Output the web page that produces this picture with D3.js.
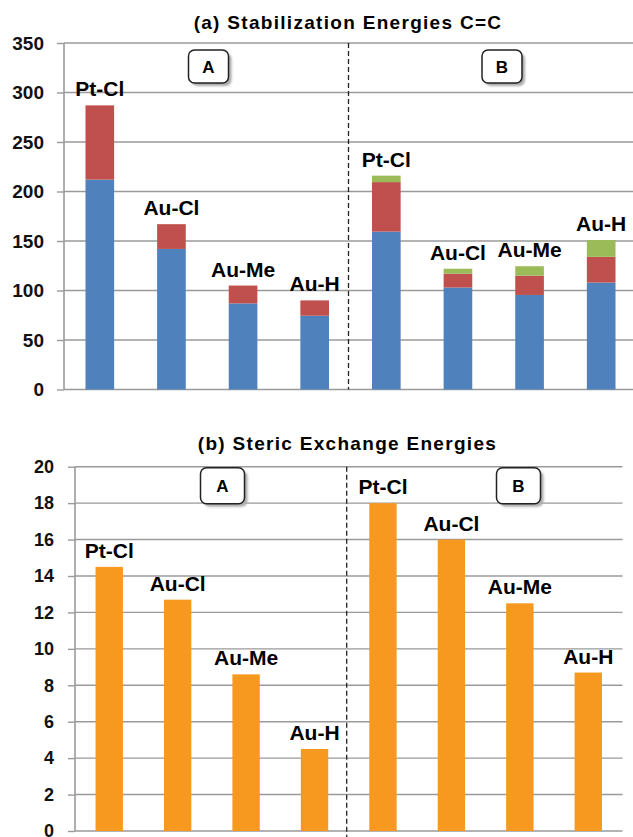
<!DOCTYPE html>
<html>
<head>
<meta charset="utf-8">
<script src="https://cdn.jsdelivr.net/npm/d3@7"></script>
<style>
  body { margin: 0; background: #fff; }
  text { font-family: "Liberation Sans", Arial, sans-serif; font-weight: bold; }
</style>
</head>
<body>
<script>
// data
var categories = ["Pt-Cl", "Au-Cl", "Au-Me", "Au-H", "Pt-Cl", "Au-Cl", "Au-Me", "Au-H"];
var groupNames = ["A", "B"];
var blueVals = [212, 142, 87, 74.5, 159.5, 103, 95.5, 108];
var redVals = [75, 25, 18, 15.5, 50, 14, 19.5, 26];
var greenVals = [0, 0, 0, 0, 6.5, 5, 9.5, 17];
var stericVals = [14.5, 12.7, 8.6, 4.5, 18, 16, 12.5, 8.7];
var topTicks = [0, 50, 100, 150, 200, 250, 300, 350];
var bottomTicks = [0, 2, 4, 6, 8, 10, 12, 14, 16, 18, 20];

var W = 633, H = 837;
var gridColor = "#9a9a9a";

var svg = d3.select("body").append("svg")
    .attr("width", W)
    .attr("height", H);

// shadow for the A / B boxes
var defs = svg.append("defs");
defs.append("filter").attr("id", "blur")
    .attr("x", "-20%").attr("y", "-20%").attr("width", "140%").attr("height", "140%")
    .append("feGaussianBlur").attr("stdDeviation", 1.2);

var idx = d3.range(categories.length);

function drawPanel(opt) {
    var g = svg.append("g");
    var x = d3.scaleBand().domain(idx).range([opt.left, opt.right]).paddingInner(0.6).paddingOuter(0.3);
    var y = d3.scaleLinear().domain([0, opt.max]).range([opt.bottom, opt.top]);

    // title
    g.append("text")
        .attr("x", opt.titleX).attr("y", opt.titleY)
        .attr("text-anchor", "middle")
        .attr("font-size", "19px")
        .attr("letter-spacing", "1.3px")
        .text(opt.title);

    // gridlines
    g.selectAll(".grid").data(opt.ticks.filter(d => d > 0)).enter().append("line")
        .attr("x1", opt.left).attr("x2", opt.gridRight)
        .attr("y1", d => y(d)).attr("y2", d => y(d))
        .attr("stroke", gridColor).attr("stroke-width", 1.4);

    // y axis
    var ax = g.append("g")
        .attr("transform", "translate(" + opt.left + ",0)")
        .call(d3.axisLeft(y).tickValues(opt.ticks).tickSize(7).tickPadding(opt.pad).tickFormat(d3.format("d")));
    ax.select(".domain").remove();
    ax.selectAll(".tick line").attr("stroke", gridColor).attr("stroke-width", 1.4);
    ax.selectAll(".tick text")
        .attr("font-size", opt.tickFont)
        .attr("font-family", "'Liberation Sans', Arial, sans-serif")
        .attr("font-weight", "bold")
        .attr("fill", "#111");
    g.append("line")
        .attr("x1", opt.left).attr("x2", opt.left)
        .attr("y1", opt.top).attr("y2", opt.bottom)
        .attr("stroke", gridColor).attr("stroke-width", 1.6);
    g.append("line")
        .attr("x1", opt.left).attr("x2", opt.gridRight)
        .attr("y1", opt.bottom).attr("y2", opt.bottom)
        .attr("stroke", gridColor).attr("stroke-width", 1.6);

    // bars
    opt.drawBars(g, x, y);

    // category labels above the bars
    g.selectAll(".lab").data(idx).enter().append("text")
        .attr("x", i => x(i) + x.bandwidth() / 2)
        .attr("y", i => y(opt.totals[i]) - 9)
        .attr("text-anchor", "middle")
        .attr("font-size", "21px")
        .attr("fill", "#000")
        .text(i => categories[i]);

    // dashed separator between A and B
    g.append("line")
        .attr("x1", opt.sepX).attr("x2", opt.sepX)
        .attr("y1", opt.top).attr("y2", opt.sepEnd)
        .attr("stroke", "#222").attr("stroke-width", 1.3)
        .attr("stroke-dasharray", "5,3");

    // A / B boxes
    groupNames.forEach(function (name, k) {
        var bx = opt.boxX[k], by = opt.top + opt.boxDy;
        g.append("rect")
            .attr("x", bx + 3).attr("y", by + 3)
            .attr("width", opt.boxW).attr("height", opt.boxH)
            .attr("rx", 6).attr("fill", "#aaa").attr("filter", "url(#blur)");
        g.append("rect")
            .attr("x", bx).attr("y", by)
            .attr("width", opt.boxW).attr("height", opt.boxH)
            .attr("rx", 6).attr("fill", "#fff").attr("stroke", "#222").attr("stroke-width", 1.5);
        g.append("text")
            .attr("x", bx + opt.boxW / 2).attr("y", by + opt.boxH / 2 + 6)
            .attr("text-anchor", "middle")
            .attr("font-size", "17px")
            .text(name);
    });
}

// (a) stacked bars
var stackKeys = ["blue", "red", "green"];
var stackColors = {blue: "#4F81BD", red: "#C0504D", green: "#9BBB59"};
var stackRows = idx.map(i => ({blue: blueVals[i], red: redVals[i], green: greenVals[i]}));
var stacked = d3.stack().keys(stackKeys)(stackRows);
var topTotals = idx.map(i => blueVals[i] + redVals[i] + greenVals[i]);

drawPanel({
    title: "(a) Stabilization Energies C=C",
    titleX: 348, titleY: 29,
    left: 64, right: 637, gridRight: 633,
    top: 43, bottom: 389.5, max: 350,
    ticks: topTicks, tickFont: "19px", pad: 13,
    totals: topTotals,
    sepX: 348.5, sepEnd: 389.5,
    boxX: [188.5, 482], boxDy: 7, boxW: 40, boxH: 33,
    drawBars: function (g, x, y) {
        g.selectAll(".layer").data(stacked).enter().append("g")
            .attr("fill", d => stackColors[d.key])
            .selectAll("rect").data(d => d.map((v, i) => ({v: v, i: i})).filter(o => o.v[1] > o.v[0]))
            .enter().append("rect")
            .attr("x", o => x(o.i))
            .attr("width", x.bandwidth())
            .attr("y", o => y(o.v[1]))
            .attr("height", o => y(o.v[0]) - y(o.v[1]));
    }
});

// (b) steric exchange
drawPanel({
    title: "(b) Steric Exchange Energies",
    titleX: 347.5, titleY: 450,
    left: 75, right: 622.5, gridRight: 622.5,
    top: 466.7, bottom: 831, max: 20,
    ticks: bottomTicks, tickFont: "18px", pad: 14,
    totals: stericVals,
    sepX: 346.7, sepEnd: H,
    boxX: [200.5, 496.5], boxDy: 1, boxW: 44, boxH: 36,
    drawBars: function (g, x, y) {
        g.selectAll(".bar").data(idx).enter().append("rect")
            .attr("x", i => x(i))
            .attr("width", x.bandwidth())
            .attr("y", i => y(stericVals[i]))
            .attr("height", i => y(0) - y(stericVals[i]))
            .attr("fill", "#F7991F");
    }
});
</script>
</body>
</html>
